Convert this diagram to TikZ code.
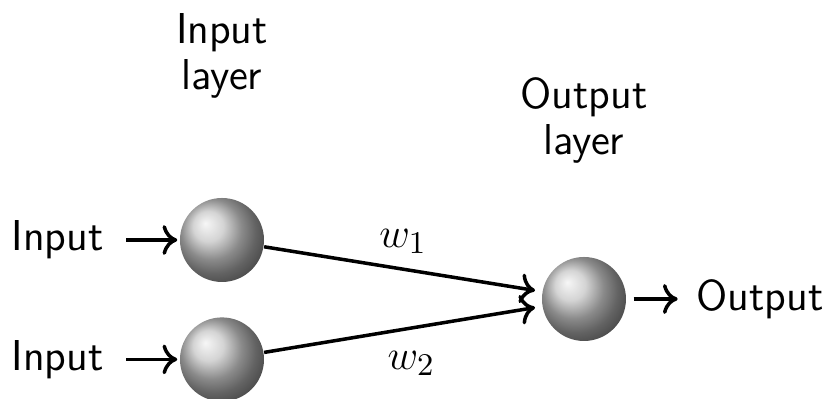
\documentclass[tikz,border=0pt]{standalone}
\usepackage{tikz}
\usetikzlibrary{arrows.meta,positioning}

\tikzset{
  neuron/.style={circle,shading=ball,ball color=gray!45,
    minimum size=0.84cm,inner sep=0pt},
  lbl/.style={inner sep=0pt,font=\sffamily\fontsize{12.3}{13.3}\selectfont},
  conn/.style={-{To[length=4.2pt,width=8.5pt]},line width=1pt}
}

\begin{document}
\begin{tikzpicture}
\useasboundingbox (0,0) rectangle (8.30,3.99);
% neurons
\node[neuron] (in1) at (2.22,1.59) {};
\node[neuron,below=0.34cm of in1] (in2) {};
\node[neuron] (out) at (5.84,1.00) {};
% inputs and output
\node[lbl,left=0.75cm of in1] (x1) {Input};
\node[lbl,left=0.75cm of in2] (x2) {Input};
\node[lbl,right=0.69cm of out] (y) {Output};
\draw[conn,shorten <=0.22cm,shorten >=0.02cm] (x1) -- (in1);
\draw[conn,shorten <=0.22cm,shorten >=0.02cm] (x2) -- (in2);
\draw[conn,shorten <=0.07cm,shorten >=0.18cm] (out) -- (y);
% weights
\draw[conn,shorten >=0.07cm] (in1) -- (out.170)
  node[pos=0.5,above=4pt,lbl] (w1) {$w_1$};
\draw[conn,shorten >=0.07cm] (in2) -- (out.190)
  node[pos=0.53,below=6pt,lbl] (w2) {$w_2$};
% layer titles
\node[lbl,align=center,above=0.98cm of in1] (ilayer) {Input\\layer};
\node[lbl,align=center,above=0.92cm of out] (olayer) {Output\\layer};
\end{tikzpicture}
\end{document}
